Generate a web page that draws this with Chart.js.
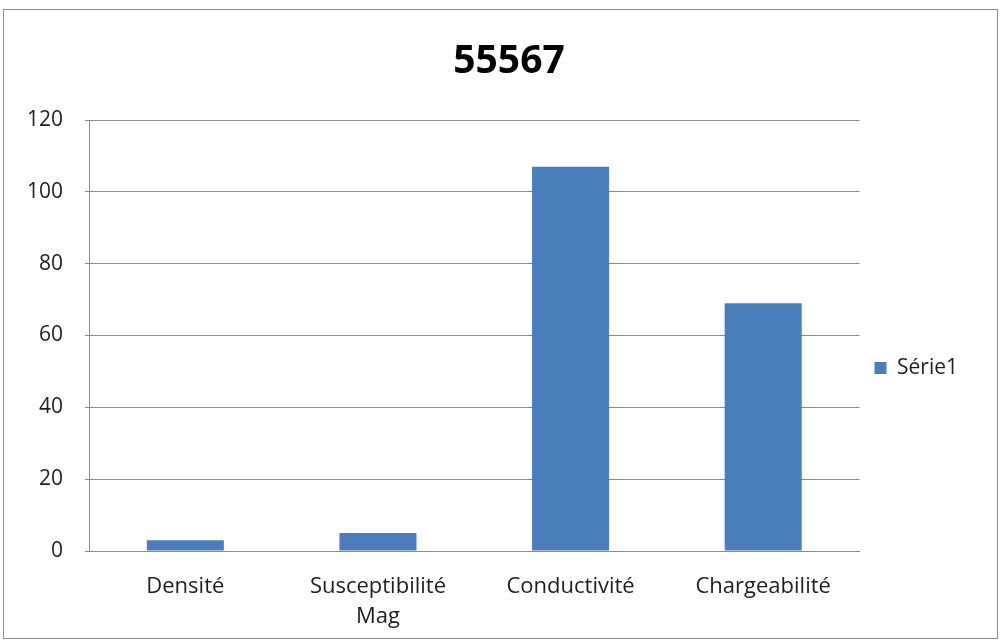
<!DOCTYPE html>
<html>
<head>
<meta charset="utf-8">
<script src="https://cdn.jsdelivr.net/npm/chart.js@4/dist/chart.umd.min.js"></script>
<style>
  html, body { margin: 0; padding: 0; background: #ffffff; }
  #frame {
    position: absolute; left: 3px; top: 9px; width: 995px; height: 630px;
    border: 1px solid #8a8a8a; box-sizing: border-box; background: #fff;
  }
  #wrap { position: absolute; left: 0; top: 0; width: 993px; height: 628px; }
</style>
</head>
<body>
<div id="frame"><div id="wrap"><canvas id="c"></canvas></div></div>
<script>
// Measurements per category for sample 55567
const categories = [["Densité"], ["Susceptibilité", "Mag"], ["Conductivité"], ["Chargeabilité"]];
const serie1 = [3, 5, 107, 69];
const yTicks = [0, 20, 40, 60, 80, 100, 120];
const seriesName = "Série1";
const chartTitle = "55567";

const FONT = "'Open Sans', Lato, sans-serif";
const BLUE = "#4a7ebb";
const GRID = "#8c8c8c";
const TEXT = "#1e1e1e";

// Chart title, centred over the whole frame (plot + legend), drawn on the canvas
const titlePlugin = {
  id: "frameTitle",
  afterLayout(chart) {
    // lift the legend block slightly so it sits a little above the lower half
    if (chart.legend) {
      chart.legend.top -= 11;
      chart.legend.bottom -= 11;
    }
  },
  afterDraw(chart) {
    const ctx = chart.ctx;
    ctx.save();
    ctx.font = "bold 39px " + FONT;
    ctx.fillStyle = "#000";
    ctx.textAlign = "center";
    ctx.textBaseline = "alphabetic";
    ctx.fillText(chartTitle, chart.width / 2 + 8.5, 63);
    ctx.restore();
  }
};

new Chart(document.getElementById("c"), {
  type: "bar",
  data: {
    labels: categories,
    datasets: [{
      label: seriesName,
      data: serie1,
      backgroundColor: BLUE,
      borderWidth: 0,
      barPercentage: 0.4,
      categoryPercentage: 1.0
    }]
  },
  options: {
    responsive: true,
    maintainAspectRatio: false,
    animation: false,
    layout: { padding: { left: 0, right: 29, top: 110, bottom: 0 } },
    plugins: {
      title: { display: false },
      legend: {
        position: "right",
        align: "center",
        labels: {
          color: TEXT,
          font: { family: FONT, size: 21 },
          boxWidth: 12,
          boxHeight: 12,
          padding: 15
        }
      },
      tooltip: { enabled: false }
    },
    scales: {
      x: {
        afterFit: (axis) => { axis.height = 87; },
        grid: { display: false, drawTicks: false },
        border: { display: true, color: GRID, width: 1 },
        ticks: {
          color: TEXT,
          font: { family: FONT, size: 22, lineHeight: 30 / 22 },
          padding: 21,
          maxRotation: 0,
          autoSkip: false
        }
      },
      y: {
        min: 0,
        max: 120,
        afterBuildTicks: (axis) => { axis.ticks = yTicks.map(v => ({ value: v })); },
        afterFit: (axis) => { axis.width = 85; },
        grid: { color: GRID, lineWidth: 1, drawTicks: true, tickLength: 4 },
        border: { display: true, color: GRID, width: 1 },
        ticks: {
          color: TEXT,
          font: { family: FONT, size: 21 },
          padding: 22
        }
      }
    }
  },
  plugins: [titlePlugin]
});
</script>
</body>
</html>
